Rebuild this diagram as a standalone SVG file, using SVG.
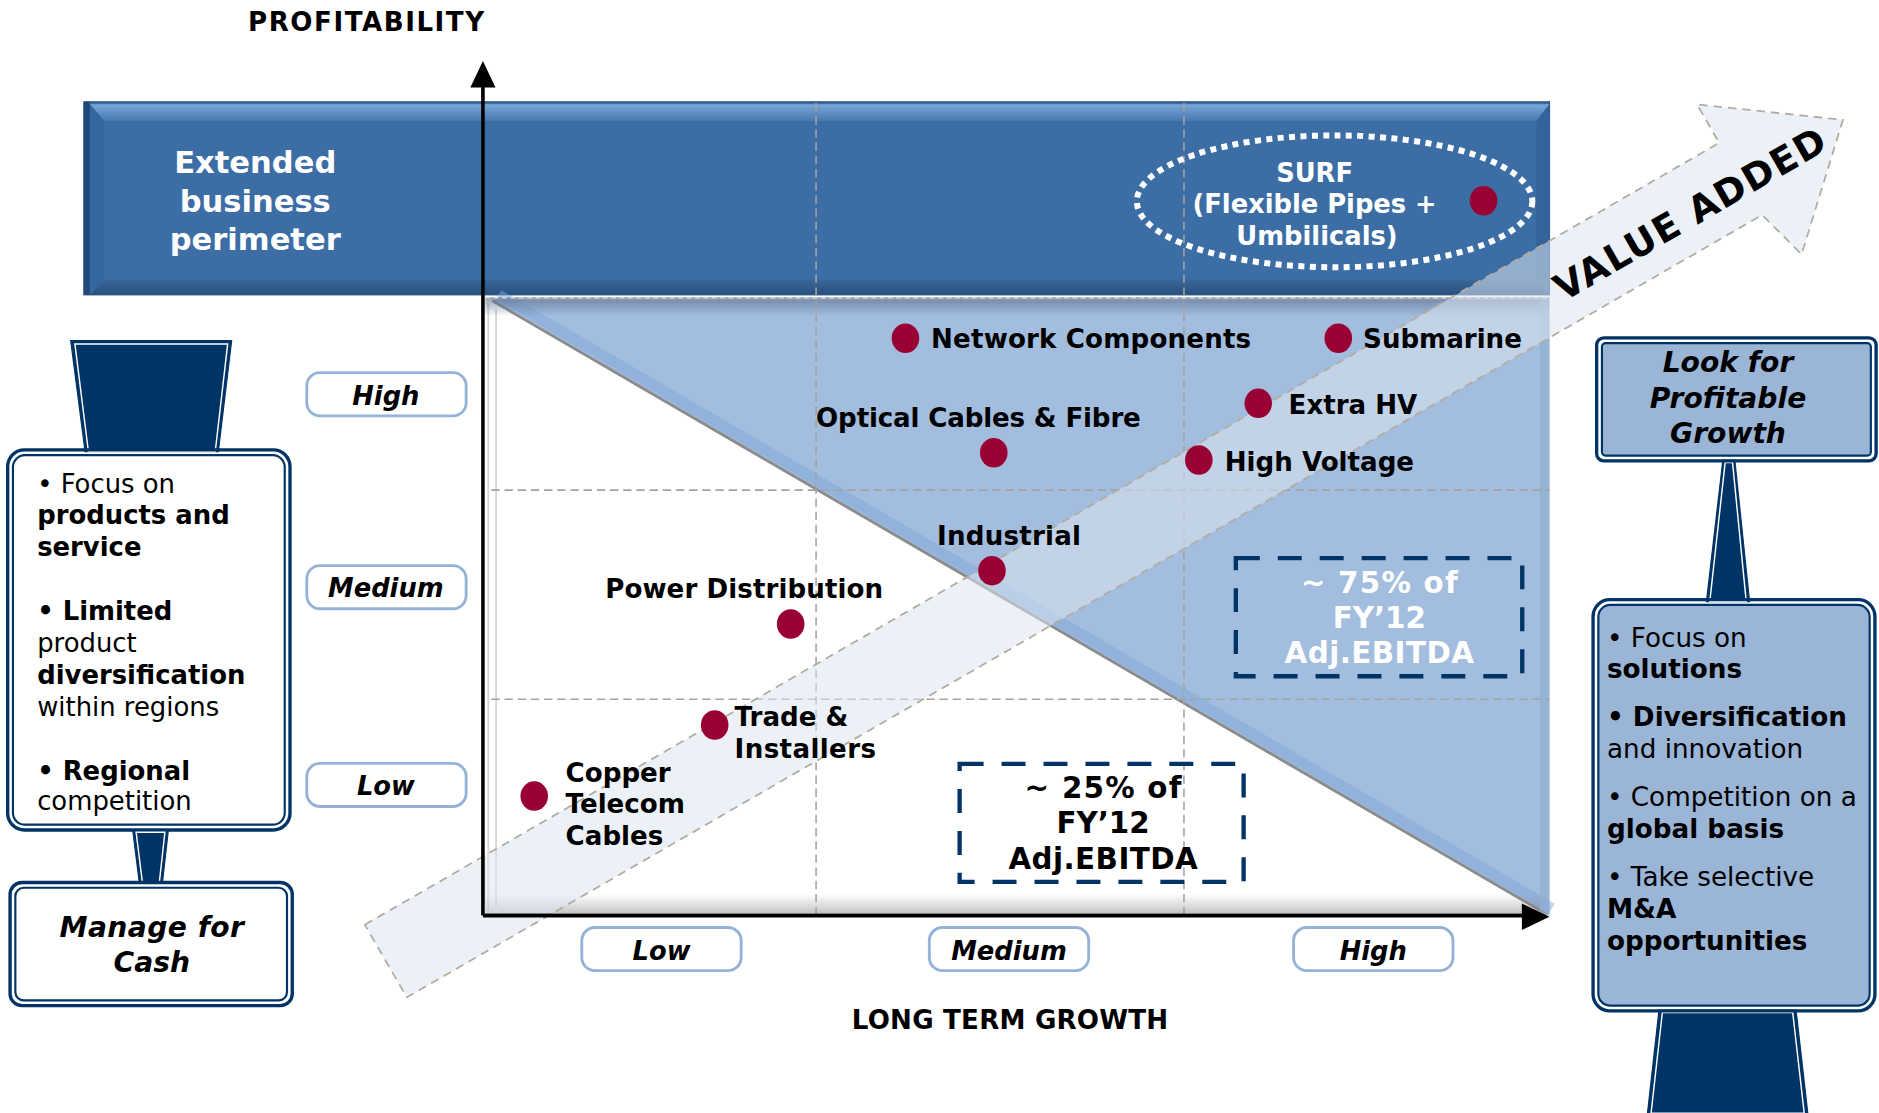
<svg xmlns="http://www.w3.org/2000/svg" width="1879" height="1113" viewBox="0 0 1879 1113">
<defs>
<linearGradient id="bandTop" x1="0" y1="0" x2="0" y2="1"><stop offset="0" stop-color="#7CA8DA"/><stop offset="1" stop-color="#4677AE"/></linearGradient>
<linearGradient id="bandBot" x1="0" y1="0" x2="0" y2="1"><stop offset="0" stop-color="#3A6899"/><stop offset="1" stop-color="#28507F"/></linearGradient>
<linearGradient id="chartTop" x1="0" y1="0" x2="0" y2="1"><stop offset="0" stop-color="#56698A" stop-opacity="0.65"/><stop offset="1" stop-color="#56698A" stop-opacity="0"/></linearGradient>
<linearGradient id="chartBot" x1="0" y1="0" x2="0" y2="1"><stop offset="0" stop-color="#808080" stop-opacity="0"/><stop offset="1" stop-color="#808080" stop-opacity="0.45"/></linearGradient>
</defs>
<style>
text{font-family:"DejaVu Sans",Verdana,sans-serif;fill:#000}
.b{font-weight:bold}
.bi{font-weight:bold;font-style:italic}
.c{text-anchor:middle}
.w{fill:#fff}
.lab{font-size:21.8px;font-weight:bold}
.dot{fill:#990033}
.grid{stroke:#A3A3A3;stroke-width:1.3;stroke-dasharray:7 4;fill:none}
.navy{fill:#003366;stroke:#003366;stroke-width:1}
.inl{fill:none;stroke:#fff;stroke-width:1.2}
.tag{fill:#fff;stroke:#95B3D7;stroke-width:2.4}
.tagt{font-size:21.5px;font-weight:bold;font-style:italic;text-anchor:middle}
.ob{fill:none;stroke:#003366;stroke-width:2.8}
.ib{stroke:#003366;stroke-width:1.8}
.ebit{fill:none;stroke:#003366;stroke-width:3.6;stroke-dasharray:20 15}
.et{font-size:24.5px;font-weight:bold;text-anchor:middle}
.bt{font-size:21.6px}
.rt{font-size:21.9px}
</style>
<g transform="scale(1.19834)">

<g id="extended-band">
<rect x="70" y="85" width="1223" height="161" fill="#3C6EA5" stroke="#2A4F7C" stroke-width="1"/>
<polygon points="75,87 1293,87 1282,101 87,101" fill="url(#bandTop)"/>
<polygon points="87,233 1282,233 1293,246 75,246" fill="url(#bandBot)"/>
<polygon points="1282,101 1293,87 1293,246 1282,233" fill="#33639A"/>
<polygon points="75,87 87,101 87,233 75,246" fill="#3467A0"/>
<rect x="70" y="85" width="5" height="161" fill="#1E4877"/>
<text class="b c w" font-size="25.5" x="213" y="144.7">Extended</text>
<text class="b c w" font-size="25.5" x="213" y="176.6">business</text>
<text class="b c w" font-size="25.5" x="213" y="208.6">perimeter</text>
</g>

<g id="chart-area">
<rect x="405" y="248" width="888" height="516" fill="#fff"/>
<polygon points="411,250 1293,250 1293,764" fill="#A2BDDD"/>
<line x1="416" y1="246" x2="1295" y2="758" stroke="#7FA8DA" stroke-width="9" stroke-opacity="0.5"/>
<line x1="411" y1="251" x2="1291" y2="763" stroke="#8C8C8C" stroke-width="2.4"/>
<line x1="409.5" y1="254" x2="1286" y2="764.5" stroke="#fff" stroke-width="3"/>
<line x1="407.5" y1="253" x2="407.5" y2="762" stroke="#D4D4D4" stroke-width="1.5"/>
<line x1="414" y1="258" x2="414" y2="756" stroke="#D4D4D4" stroke-width="1.5"/>
<rect x="405" y="248" width="888" height="16" fill="url(#chartTop)"/>
<rect x="405" y="746" width="880" height="16" fill="url(#chartBot)"/>
<rect x="1285" y="250" width="8" height="514" fill="#8FABCF" opacity="0.6"/>
<line x1="405" y1="248.5" x2="1293" y2="248.5" stroke="#D8D8D8" stroke-width="1.2" stroke-dasharray="4 3"/>
</g>

<g id="grid">
<line class="grid" x1="681" y1="86" x2="681" y2="763"/>
<line class="grid" x1="988" y1="86" x2="988" y2="763"/>
<line class="grid" x1="410" y1="409" x2="1293" y2="409"/>
<line class="grid" x1="410" y1="583.5" x2="1293" y2="583.5"/>
</g>

<g id="value-added-arrow" transform="translate(322,802) rotate(-30)">
<polygon points="0,-35 1305,-35 1305,-72 1404,0 1318,80 1306,35 0,35" fill="#DCE5F0" fill-opacity="0.55" stroke="#B3ACA0" stroke-width="1.5" stroke-dasharray="7 5"/>
<text class="b c" font-size="31" x="1254" y="15" textLength="256">VALUE ADDED</text>
</g>

<g id="surf">
<ellipse cx="1113.7" cy="168" rx="165" ry="55" fill="none" stroke="#fff" stroke-width="5" stroke-dasharray="5 4.5"/>
<text class="b c w" font-size="21.5" x="1097" y="151.6">SURF</text>
<text class="b c w" font-size="21.5" x="1097" y="178">(Flexible Pipes +</text>
<text class="b c w" font-size="21.5" x="1099" y="204.5">Umbilicals)</text>
<ellipse class="dot" cx="1238" cy="167.5" rx="11.5" ry="12.3"/>
</g>

<g id="ebitda-75">
<rect class="ebit" x="1031.3" y="465.8" width="239" height="98.5"/>
<text class="et w" x="1151" y="495.1" textLength="131">~ 75% of</text>
<text class="et w" x="1151" y="524.3">FY’12</text>
<text class="et w" x="1151" y="553.5" textLength="158">Adj.EBITDA</text>
</g>

<g id="ebitda-25">
<rect class="ebit" x="800.8" y="637.4" width="237" height="98.5"/>
<text class="et" x="920.5" y="666" textLength="131">~ 25% of</text>
<text class="et" x="920.5" y="695">FY’12</text>
<text class="et" x="920.5" y="725" textLength="158">Adj.EBITDA</text>
</g>

<g id="businesses">
<g id="network-components"><ellipse class="dot" cx="755.6" cy="282.3" rx="11.5" ry="12.3"/><text class="lab" x="777" y="290.5" textLength="267">Network Components</text></g>
<g id="optical"><ellipse class="dot" cx="829.3" cy="377.8" rx="11.5" ry="12.3"/><text class="lab" x="681" y="356" textLength="271">Optical Cables &amp; Fibre</text></g>
<g id="industrial"><ellipse class="dot" cx="827.8" cy="476.2" rx="11.5" ry="12.3"/><text class="lab" x="782" y="455" textLength="120">Industrial</text></g>
<g id="power-distribution"><ellipse class="dot" cx="659.8" cy="520.7" rx="11.5" ry="12.3"/><text class="lab" x="505" y="499.3" textLength="232">Power Distribution</text></g>
<g id="trade-installers"><ellipse class="dot" cx="596.4" cy="605" rx="11.5" ry="12.3"/><text class="lab" x="613" y="606">Trade &amp;</text><text class="lab" x="613" y="632.3" textLength="118">Installers</text></g>
<g id="copper-telecom"><ellipse class="dot" cx="445.8" cy="664.3" rx="11.5" ry="12.3"/><text class="lab" x="472" y="652.3">Copper</text><text class="lab" x="472" y="678.7">Telecom</text><text class="lab" x="472" y="705.2">Cables</text></g>
<g id="submarine"><ellipse class="dot" cx="1116.8" cy="282.3" rx="11.5" ry="12.3"/><text class="lab" x="1137.5" y="290" textLength="132.5">Submarine</text></g>
<g id="extra-hv"><ellipse class="dot" cx="1050" cy="336.6" rx="11.5" ry="12.3"/><text class="lab" x="1075.3" y="345.8" textLength="107.4">Extra HV</text></g>
<g id="high-voltage"><ellipse class="dot" cx="1000.4" cy="383.9" rx="11.5" ry="12.3"/><text class="lab" x="1022" y="392.8" textLength="158">High Voltage</text></g>
</g>

<g id="axes">
<line x1="403" y1="764" x2="403" y2="70" stroke="#000" stroke-width="3"/>
<polygon points="403,51 392.5,73 413.5,73" fill="#000"/>
<line x1="403" y1="764" x2="1272" y2="764" stroke="#000" stroke-width="3.2"/>
<polygon points="1293,765 1270,754 1270,776" fill="#000"/>
<text class="b c" font-size="21.8" x="305.5" y="25.6" textLength="197">PROFITABILITY</text>
<text class="b c" font-size="21.8" x="842.8" y="858.7" textLength="264">LONG TERM GROWTH</text>
</g>

<g id="y-tags">
<g id="y-high"><rect class="tag" x="256" y="311" width="133" height="36" rx="11"/><text class="tagt" x="322" y="338">High</text></g>
<g id="y-medium"><rect class="tag" x="256" y="472" width="133" height="36" rx="11"/><text class="tagt" x="322" y="498.5">Medium</text></g>
<g id="y-low"><rect class="tag" x="256" y="637" width="133" height="36" rx="11"/><text class="tagt" x="322" y="663.5">Low</text></g>
</g>

<g id="x-tags">
<g id="x-low"><rect class="tag" x="485.5" y="774" width="133" height="36" rx="11"/><text class="tagt" x="552" y="801">Low</text></g>
<g id="x-medium"><rect class="tag" x="775.5" y="774" width="133" height="36" rx="11"/><text class="tagt" x="842" y="801">Medium</text></g>
<g id="x-high"><rect class="tag" x="1079.5" y="774" width="133" height="36" rx="11"/><text class="tagt" x="1146" y="801">High</text></g>
</g>

<g id="left-panel">
<g id="left-top-trapezoid">
<polygon class="navy" points="59,284.3 193.3,284.3 182.2,377 71,377"/>
<polygon class="inl" points="62.5,287 190,287 179.6,377 73.8,377"/>
</g>
<g id="left-box">
<rect class="ob" x="6.4" y="375.4" width="235.6" height="317.2" rx="14" fill="#fff"/>
<rect class="ib" x="10.8" y="379.8" width="226.8" height="308.4" rx="10" fill="#fff"/>
<text class="bt" x="31" y="411">• Focus on</text>
<text class="bt b" x="31" y="437.3">products and</text>
<text class="bt b" x="31" y="463.7">service</text>
<text class="bt b" x="31" y="517.4">• Limited</text>
<text class="bt" x="31" y="544.4">product</text>
<text class="bt b" x="31" y="571.1">diversification</text>
<text class="bt" x="31" y="597.2">within regions</text>
<text class="bt b" x="31" y="650.9">• Regional</text>
<text class="bt" x="31" y="676">competition</text>
</g>
<g id="left-connector">
<polygon class="navy" points="110.7,692.6 140.5,692.6 135.5,737 116.3,737"/>
<polygon class="inl" points="113.6,694.5 137.6,694.5 132.9,737 118.9,737"/>
</g>
<g id="manage-for-cash">
<rect class="ob" x="8.4" y="736.4" width="235.5" height="102.8" rx="10" fill="#fff"/>
<rect class="ib" x="12.8" y="740.8" width="226.7" height="94" rx="7" fill="#fff"/>
<text class="bi c" font-size="23.5" x="126.6" y="781.6" textLength="154">Manage for</text>
<text class="bi c" font-size="23.5" x="126.6" y="810.9">Cash</text>
</g>
</g>

<g id="right-panel">
<g id="right-connector">
<polygon class="navy" points="1437.7,384 1447.7,384 1460,502 1424,502"/>
<polygon class="inl" points="1439.6,386 1445.8,386 1457.2,502 1426.8,502"/>
</g>
<g id="look-for-growth">
<rect class="ob" x="1332.4" y="281.9" width="233.2" height="102.7" rx="6" fill="#fff"/>
<rect class="ib" x="1336.8" y="286.3" width="224.4" height="93.9" rx="3" fill="#9AB5D6"/>
<text class="bi c" font-size="23.5" x="1442" y="310.2">Look for</text>
<text class="bi c" font-size="23.5" x="1442" y="340.2">Profitable</text>
<text class="bi c" font-size="23.5" x="1442" y="370">Growth</text>
</g>
<g id="pedestal">
<polygon class="navy" points="1384.4,843 1498.8,843 1508.6,929 1374.8,929"/>
<polygon class="inl" points="1387.2,845 1496,845 1505.6,929 1377.8,929"/>
</g>
<g id="right-box">
<rect class="ob" x="1329.4" y="500.4" width="235.2" height="343.2" rx="14" fill="#fff"/>
<rect class="ib" x="1333.8" y="504.8" width="226.4" height="334.4" rx="10" fill="#9AB5D6"/>
<text class="rt" x="1341" y="539.6">• Focus on</text>
<text class="rt b" x="1341" y="566">solutions</text>
<text class="rt b" x="1341" y="605.5">• Diversification</text>
<text class="rt" x="1341" y="632.8">and innovation</text>
<text class="rt" x="1341" y="672.6">• Competition on a</text>
<text class="rt b" x="1341" y="699.6">global basis</text>
<text class="rt" x="1341" y="739.4">• Take selective</text>
<text class="rt b" x="1341" y="766.3">M&amp;A</text>
<text class="rt b" x="1341" y="792.8">opportunities</text>
</g>
</g>

</g>
</svg>
